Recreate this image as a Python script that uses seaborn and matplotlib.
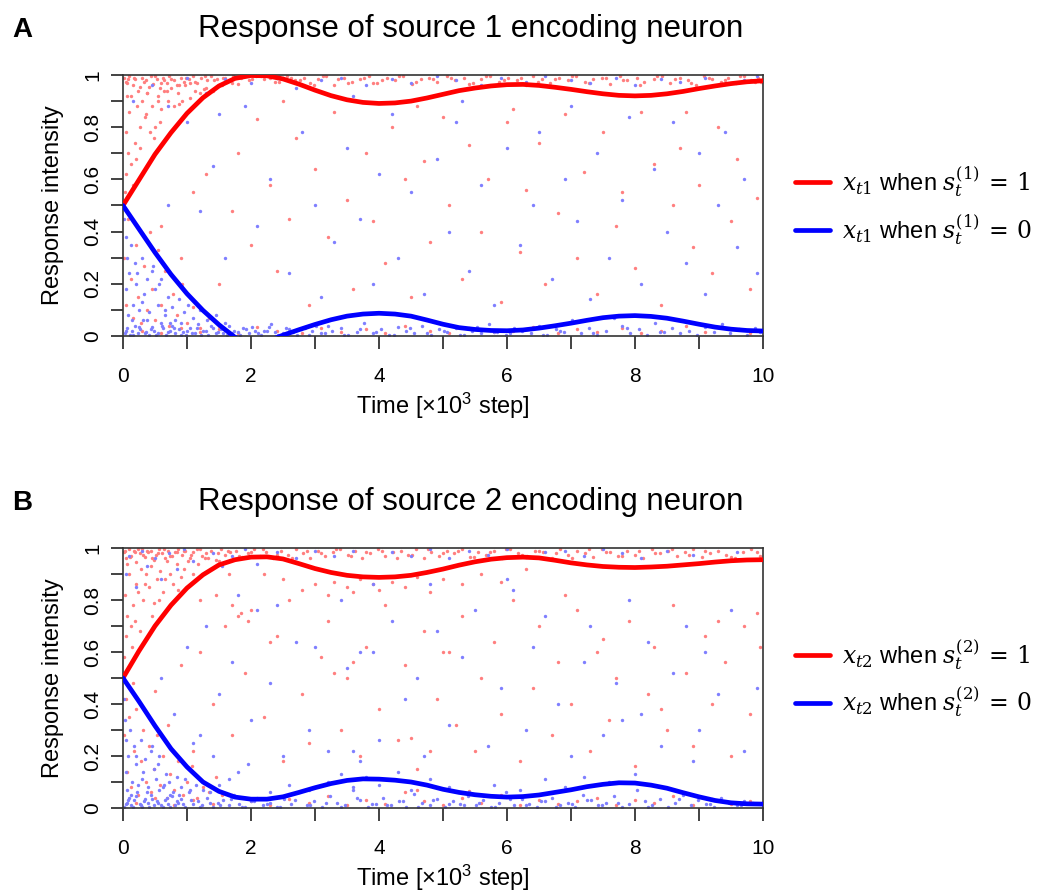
import matplotlib
matplotlib.use("Agg")
import matplotlib.pyplot as plt
import seaborn as sns
from matplotlib.ticker import MultipleLocator, FuncFormatter

# ---------------- curves ----------------
t = [0, 0.25, 0.5, 0.75, 1, 1.25, 1.5, 1.75, 2, 2.25, 2.5, 2.75, 3, 3.25, 3.5, 3.75,
     4, 4.25, 4.5, 4.75, 5, 5.25, 5.5, 5.75, 6, 6.25, 6.5, 6.75, 7, 7.25, 7.5, 7.75,
     8, 8.25, 8.5, 8.75, 9, 9.25, 9.5, 9.75, 10]

a_red = [0.5, 0.598, 0.696, 0.779, 0.853, 0.913, 0.958, 0.987, 0.998, 0.997, 0.985, 0.965, 0.942, 0.921,
         0.905, 0.895, 0.891, 0.893, 0.9, 0.912, 0.926, 0.94, 0.95, 0.958, 0.963, 0.964, 0.96, 0.953,
         0.945, 0.936, 0.928, 0.922, 0.92, 0.922, 0.928, 0.937, 0.948, 0.958, 0.967, 0.974, 0.978]
a_blue = [0.5, 0.41, 0.32, 0.236, 0.162, 0.098, 0.043, -0.005, -0.03, -0.02, 0.003, 0.024, 0.044, 0.062,
          0.076, 0.084, 0.087, 0.084, 0.076, 0.061, 0.045, 0.032, 0.025, 0.021, 0.02, 0.023, 0.03, 0.039,
          0.049, 0.06, 0.07, 0.076, 0.078, 0.075, 0.068, 0.057, 0.045, 0.034, 0.026, 0.021, 0.019]
b_red = [0.5, 0.604, 0.70, 0.78, 0.846, 0.897, 0.935, 0.955, 0.965, 0.966, 0.958, 0.94, 0.921, 0.906,
         0.895, 0.889, 0.887, 0.889, 0.895, 0.906, 0.919, 0.934, 0.947, 0.957, 0.963, 0.965, 0.962, 0.953,
         0.943, 0.935, 0.929, 0.926, 0.925, 0.927, 0.93, 0.935, 0.94, 0.946, 0.951, 0.954, 0.955]
b_blue = [0.5, 0.41, 0.316, 0.228, 0.158, 0.10, 0.064, 0.042, 0.034, 0.034, 0.043, 0.06, 0.078,
          0.094, 0.106, 0.112, 0.111, 0.107, 0.1, 0.088, 0.072, 0.06, 0.051, 0.045, 0.042, 0.044, 0.05,
          0.06, 0.07, 0.082, 0.091, 0.097, 0.096, 0.088, 0.076, 0.059, 0.043, 0.029, 0.02, 0.016, 0.015]

# ---------------- panel A dots ----------------
ra_top_x = [0.02, 0.06, 0.1, 0.15, 0.19, 0.24, 0.3, 0.33, 0.38, 0.44, 0.47, 0.53, 0.58, 0.62, 0.68, 0.72, 0.79, 0.85, 0.9, 0.96,
            1.03, 1.1, 1.16, 1.22, 1.31, 1.38, 1.47, 1.56, 1.63, 1.72, 1.85, 1.97, 2.08, 2.21, 2.3, 2.44, 2.57, 2.69, 2.83, 2.92,
            3.05, 3.18, 3.3, 3.46, 3.58, 3.71, 3.84, 3.97, 4.12, 4.25, 4.38, 4.52, 4.66, 4.78, 4.91, 5.06, 5.19, 5.33, 5.47, 5.6,
            5.74, 5.88, 6.02, 6.15, 6.3, 6.41, 6.55, 6.68, 6.82, 6.95, 7.08, 7.22, 7.35, 7.49, 7.61, 7.76, 7.88, 8.03, 8.14, 8.29,
            8.42, 8.55, 8.7, 8.83, 8.96, 9.08, 9.21, 9.34, 9.46, 9.58, 9.7, 9.81, 9.93, 9.97, 0.08, 0.41, 0.64, 1.26, 2.5, 3.9]
ra_top_y = [0.99, 0.97, 0.995, 0.96, 0.985, 0.94, 0.99, 0.975, 0.93, 0.998, 0.965, 0.985, 0.95, 0.99, 0.97, 0.995, 0.98, 0.96, 0.99, 0.975,
            0.985, 0.995, 0.97, 0.99, 0.98, 0.996, 0.985, 0.99, 0.975, 0.995, 0.99, 0.98, 0.997, 0.985, 0.99, 0.975, 0.995, 0.98, 0.99, 0.97,
            0.985, 0.995, 0.96, 0.99, 0.975, 0.985, 0.995, 0.97, 0.99, 0.98, 0.995, 0.965, 0.985, 0.99, 0.975, 0.995, 0.98, 0.99, 0.97, 0.985,
            0.995, 0.975, 0.99, 0.98, 0.96, 0.995, 0.985, 0.97, 0.99, 0.98, 0.995, 0.975, 0.985, 0.99, 0.965, 0.995, 0.98, 0.99, 0.975, 0.985,
            0.995, 0.97, 0.99, 0.98, 0.96, 0.995, 0.985, 0.975, 0.99, 0.97, 0.995, 0.98, 0.99, 0.975, 0.985, 0.955, 0.98, 0.945, 0.99, 0.97]
ra_top2_x = [0.04, 0.17, 0.27, 0.36, 0.5, 0.6, 0.75, 0.87, 0.99, 1.13, 1.28, 1.42, 1.6, 1.8, 2.02, 2.15, 2.38, 2.62, 2.76, 2.98,
             3.12, 3.36, 3.52, 3.77, 4.05, 4.32, 4.58, 4.85, 5.13, 5.4, 5.67, 5.95, 6.22, 6.48, 6.75, 7.02, 7.28, 7.55, 7.82, 8.08,
             8.35, 8.62, 8.88, 9.15, 9.4, 9.64, 9.88, 0.12, 0.55, 1.05]
ra_top2_y = [0.975, 0.99, 0.955, 0.98, 0.995, 0.97, 0.985, 0.96, 0.99, 0.975, 0.995, 0.98, 0.99, 0.965, 0.985, 0.995, 0.975, 0.99, 0.98, 0.96,
             0.995, 0.985, 0.97, 0.99, 0.98, 0.995, 0.975, 0.985, 0.99, 0.965, 0.995, 0.98, 0.99, 0.975, 0.985, 0.995, 0.97, 0.99, 0.98, 0.96,
             0.995, 0.985, 0.97, 0.99, 0.98, 0.995, 0.975, 0.92, 0.9, 0.97]
ra_ul_x = [0.03, 0.05, 0.08, 0.04, 0.1, 0.13, 0.07, 0.18, 0.22, 0.26, 0.15, 0.3, 0.34, 0.2, 0.38, 0.42, 0.27, 0.46, 0.5, 0.55,
           0.36, 0.6, 0.64, 0.7, 0.48, 0.75, 0.8, 0.58, 0.86, 0.92, 0.97, 0.68, 1.04, 1.12, 1.2, 0.88, 1.3, 1.4, 1.55, 1.7]
ra_ul_y = [0.55, 0.62, 0.7, 0.78, 0.86, 0.66, 0.92, 0.74, 0.88, 0.8, 0.58, 0.9, 0.84, 0.68, 0.93, 0.78, 0.72, 0.88, 0.8, 0.92,
           0.85, 0.87, 0.94, 0.9, 0.76, 0.95, 0.88, 0.82, 0.93, 0.9, 0.96, 0.94, 0.91, 0.94, 0.93, 0.89, 0.95, 0.94, 0.96, 0.97]
ra_mid_x = [0.6, 0.9, 1.1, 1.3, 1.5, 1.7, 1.8, 2.0, 2.1, 2.3, 2.4, 2.6, 2.7, 2.9, 3.0, 3.2, 3.3, 3.5, 3.6, 3.8,
            3.9, 4.1, 4.2, 4.4, 4.5, 4.7, 4.8, 5.0, 5.1, 5.3, 5.4, 5.6, 5.7, 5.9, 6.0, 6.2, 6.3, 6.5, 6.6, 6.8,
            6.9, 7.1, 7.2, 7.4, 7.5, 7.7, 7.8, 8.0, 8.1, 8.3, 8.4, 8.6, 8.7, 8.9, 9.0, 9.2, 9.3, 9.5, 9.6, 9.8,
            9.9, 2.5, 4.6, 6.1, 8.8]
ra_mid_y = [0.42, 0.3, 0.55, 0.62, 0.2, 0.48, 0.7, 0.35, 0.83, 0.58, 0.25, 0.45, 0.76, 0.12, 0.64, 0.38, 0.86, 0.52, 0.18, 0.7,
            0.44, 0.28, 0.8, 0.6, 0.15, 0.67, 0.36, 0.84, 0.5, 0.22, 0.73, 0.4, 0.6, 0.13, 0.82, 0.32, 0.56, 0.74, 0.2, 0.47,
            0.85, 0.3, 0.63, 0.16, 0.78, 0.42, 0.55, 0.26, 0.86, 0.66, 0.12, 0.5, 0.72, 0.34, 0.58, 0.24, 0.8, 0.44, 0.68, 0.18,
            0.53, 0.9, 0.88, 0.87, 0.86]
ra_ll_x = [0.02, 0.05, 0.08, 0.12, 0.15, 0.2, 0.24, 0.28, 0.33, 0.37, 0.42, 0.46, 0.5, 0.55, 0.6, 0.66, 0.72, 0.78, 0.85, 0.92,
           1.0, 1.1, 1.2, 1.35, 1.5]
ra_ll_y = [0.3, 0.12, 0.45, 0.22, 0.07, 0.35, 0.15, 0.05, 0.27, 0.1, 0.4, 0.18, 0.06, 0.33, 0.12, 0.25, 0.04, 0.16, 0.08, 0.2,
           0.05, 0.11, 0.03, 0.07, 0.04]
ra_bot_x = [0.3, 0.6, 0.9, 1.2, 1.5, 1.8, 2.1, 2.4, 2.8, 3.1, 3.4, 3.8, 4.1, 4.4, 4.8, 5.1, 5.4, 5.8, 6.1, 6.4,
            6.8, 7.1, 7.4, 7.8, 8.1, 8.4, 8.8, 9.1, 9.5, 9.8]
ra_bot_y = [0.02, 0.01, 0.03, 0.015, 0.025, 0.01, 0.035, 0.02, 0.01, 0.03, 0.015, 0.025, 0.01, 0.04, 0.02, 0.01, 0.03, 0.015, 0.02, 0.035,
            0.01, 0.025, 0.015, 0.03, 0.01, 0.02, 0.04, 0.015, 0.025, 0.01]

ba_bot_x = [0.03, 0.07, 0.11, 0.14, 0.18, 0.23, 0.27, 0.31, 0.36, 0.4, 0.45, 0.49, 0.54, 0.59, 0.63, 0.67, 0.73, 0.77, 0.82, 0.87,
            0.93, 0.98, 1.05, 1.12, 1.18, 1.25, 1.33, 1.41, 1.49, 1.57, 1.66, 1.74, 1.83, 1.92, 2.01, 2.11, 2.2, 2.32, 2.43, 2.55,
            2.66, 2.78, 2.9, 3.02, 3.15, 3.27, 3.4, 3.52, 3.65, 3.77, 3.9, 4.03, 4.16, 4.29, 4.42, 4.55, 4.68, 4.81, 4.94, 5.07,
            5.2, 5.33, 5.46, 5.59, 5.72, 5.85, 5.98, 6.11, 6.24, 6.37, 6.5, 6.63, 6.76, 6.89, 7.02, 7.15, 7.28, 7.41, 7.54, 7.67,
            7.8, 7.93, 8.06, 8.19, 8.32, 8.45, 8.58, 8.71, 8.84, 8.97, 9.1, 9.23, 9.36, 9.49, 9.62, 9.75, 9.88, 9.96, 1.7, 2.25]
ba_bot_y = [0.01, 0.03, 0.005, 0.02, 0.04, 0.01, 0.025, 0.06, 0.015, 0.005, 0.035, 0.02, 0.01, 0.05, 0.03, 0.005, 0.02, 0.04, 0.01, 0.025,
            0.015, 0.005, 0.03, 0.01, 0.045, 0.02, 0.005, 0.03, 0.015, 0.01, 0.04, 0.02, 0.005, 0.025, 0.035, 0.01, 0.02, 0.045, 0.005, 0.03,
            0.015, 0.025, 0.005, 0.04, 0.01, 0.02, 0.03, 0.005, 0.015, 0.05, 0.01, 0.025, 0.005, 0.035, 0.02, 0.01, 0.04, 0.005, 0.025, 0.015,
            0.03, 0.005, 0.02, 0.01, 0.045, 0.015, 0.005, 0.03, 0.02, 0.01, 0.04, 0.005, 0.025, 0.015, 0.06, 0.01, 0.03, 0.005, 0.02, 0.07,
            0.04, 0.01, 0.025, 0.005, 0.05, 0.015, 0.03, 0.01, 0.02, 0.005, 0.035, 0.015, 0.045, 0.01, 0.025, 0.005, 0.03, 0.015, 0.01, 0.02]
ba_bot2_x = [0.05, 0.16, 0.25, 0.34, 0.43, 0.52, 0.61, 0.7, 0.8, 0.9, 1.0, 1.08, 1.15, 1.22, 1.3, 1.38, 1.45, 1.53, 1.62, 1.79,
             1.88, 1.97, 2.06, 2.16, 2.28, 2.38, 2.5, 2.6, 2.72, 2.84, 2.96, 3.09, 3.21, 3.46, 3.71, 3.96, 4.23, 4.49, 4.75, 5.01,
             5.27, 5.53, 5.79, 6.05, 6.31, 6.57, 6.83, 7.35, 7.87, 8.39]
ba_bot2_y = [0.02, 0.005, 0.035, 0.01, 0.025, 0.005, 0.04, 0.015, 0.03, 0.005, 0.02, 0.01, 0.03, 0.005, 0.02, 0.04, 0.01, 0.025, 0.005, 0.015,
             0.03, 0.01, 0.02, 0.005, 0.035, 0.015, 0.01, 0.025, 0.005, 0.03, 0.02, 0.01, 0.04, 0.005, 0.025, 0.015, 0.005, 0.03, 0.01, 0.02,
             0.005, 0.035, 0.015, 0.01, 0.025, 0.005, 0.02, 0.01, 0.03, 0.015]
ba_ll_x = [0.02, 0.04, 0.06, 0.09, 0.05, 0.12, 0.15, 0.08, 0.18, 0.21, 0.25, 0.14, 0.29, 0.33, 0.22, 0.37, 0.41, 0.3, 0.45, 0.5,
           0.38, 0.55, 0.6, 0.47, 0.65, 0.7, 0.56, 0.76, 0.82, 0.66, 0.88, 0.95, 0.74, 1.02, 1.1, 1.2, 0.9, 1.32, 1.45, 1.6]
ba_ll_y = [0.45, 0.38, 0.3, 0.24, 0.18, 0.35, 0.12, 0.08, 0.28, 0.2, 0.1, 0.06, 0.3, 0.16, 0.24, 0.22, 0.09, 0.13, 0.25, 0.18,
           0.06, 0.12, 0.22, 0.27, 0.08, 0.15, 0.2, 0.11, 0.06, 0.1, 0.14, 0.09, 0.05, 0.12, 0.07, 0.1, 0.05, 0.06, 0.08, 0.05]
ba_mid_x = [0.7, 1.0, 1.2, 1.4, 1.6, 1.9, 2.1, 2.3, 2.6, 2.8, 3.0, 3.1, 3.3, 3.5, 3.7, 3.9, 4.0, 4.2, 4.3, 4.5,
            4.7, 4.9, 5.1, 5.2, 5.4, 5.6, 5.8, 6.0, 6.2, 6.4, 6.5, 6.7, 6.9, 7.1, 7.3, 7.4, 7.6, 7.8, 7.9, 8.1,
            8.3, 8.5, 8.6, 8.8, 9.0, 9.1, 9.3, 9.4, 9.6, 9.7, 9.9, 1.5, 3.6, 5.3, 7.0]
ba_mid_y = [0.5, 0.82, 0.48, 0.65, 0.3, 0.88, 0.42, 0.6, 0.24, 0.78, 0.5, 0.15, 0.36, 0.72, 0.45, 0.2, 0.62, 0.85, 0.3, 0.55,
            0.16, 0.68, 0.4, 0.82, 0.25, 0.58, 0.12, 0.72, 0.35, 0.5, 0.78, 0.22, 0.6, 0.44, 0.14, 0.7, 0.3, 0.52, 0.84, 0.2,
            0.64, 0.4, 0.82, 0.28, 0.7, 0.16, 0.5, 0.78, 0.34, 0.6, 0.24, 0.85, 0.92, 0.9, 0.88]
ba_top_x = [0.15, 0.45, 0.7, 1.0, 1.3, 1.6, 2.0, 2.4, 2.7, 3.1, 3.4, 3.8, 4.2, 4.5, 4.9, 5.2, 5.6, 5.9, 6.3, 6.6,
            7.0, 7.3, 7.7, 8.0, 8.4, 8.7, 9.1, 9.4, 9.7, 9.9]
ba_top_y = [0.9, 0.96, 0.88, 0.99, 0.93, 0.985, 0.97, 0.99, 0.95, 0.98, 0.99, 0.96, 0.985, 0.97, 0.995, 0.98, 0.96, 0.99, 0.975, 0.995,
            0.98, 0.97, 0.99, 0.96, 0.985, 0.975, 0.99, 0.965, 0.98, 0.995]

# ---------------- panel B dots ----------------
rb_top_x = [0.01, 0.05, 0.09, 0.13, 0.17, 0.21, 0.26, 0.29, 0.34, 0.39, 0.43, 0.48, 0.52, 0.57, 0.61, 0.66, 0.71, 0.76, 0.81, 0.86,
            0.92, 0.97, 1.04, 1.09, 1.15, 1.23, 1.3, 1.37, 1.45, 1.53, 1.6, 1.68, 1.77, 1.86, 1.95, 2.05, 2.14, 2.24, 2.35, 2.47,
            2.58, 2.7, 2.81, 2.93, 3.04, 3.16, 3.28, 3.39, 3.51, 3.63, 3.74, 3.86, 3.98, 4.1, 4.22, 4.34, 4.46, 4.58, 4.7, 4.82,
            4.94, 5.06, 5.18, 5.3, 5.43, 5.55, 5.68, 5.8, 5.93, 6.05, 6.18, 6.31, 6.44, 6.57, 6.7, 6.83, 6.96, 7.09, 7.22, 7.35,
            7.48, 7.61, 7.74, 7.87, 8.0, 8.13, 8.26, 8.39, 8.52, 8.65, 8.78, 8.91, 9.04, 9.17, 9.3, 9.43, 9.56, 9.69, 9.82, 9.95]
rb_top_y = [0.985, 0.96, 0.995, 0.97, 0.99, 0.945, 0.98, 0.995, 0.965, 0.985, 0.99, 0.955, 0.975, 0.995, 0.98, 0.96, 0.99, 0.97, 0.985, 0.995,
            0.975, 0.99, 0.96, 0.985, 0.995, 0.97, 0.98, 0.99, 0.955, 0.995, 0.975, 0.985, 0.99, 0.965, 0.98, 0.995, 0.97, 0.985, 0.96, 0.99,
            0.975, 0.995, 0.98, 0.96, 0.99, 0.97, 0.985, 0.995, 0.975, 0.99, 0.96, 0.98, 0.995, 0.97, 0.985, 0.99, 0.975, 0.995, 0.96, 0.985,
            0.97, 0.99, 0.98, 0.995, 0.965, 0.985, 0.975, 0.99, 0.96, 0.995, 0.98, 0.97, 0.99, 0.985, 0.96, 0.995, 0.975, 0.99, 0.98, 0.965,
            0.995, 0.985, 0.97, 0.99, 0.975, 0.96, 0.995, 0.98, 0.99, 0.97, 0.985, 0.995, 0.965, 0.98, 0.99, 0.975, 0.96, 0.985, 0.995, 0.97]
rb_top2_x = [0.03, 0.11, 0.19, 0.24, 0.31, 0.37, 0.45, 0.55, 0.64, 0.74, 0.84, 0.95, 1.07, 1.2, 1.33, 1.49, 1.64, 1.82, 2.0, 2.19,
             2.41, 2.64, 2.87, 3.1, 3.33, 3.57, 3.8, 4.04, 4.28, 4.52, 4.76, 5.0, 5.24, 5.49, 5.74, 5.99, 6.24, 6.5, 6.76, 7.02,
             7.28, 7.54, 7.8, 8.06, 8.32, 8.58, 8.84, 9.1, 9.5, 9.9]
rb_top2_y = [0.99, 0.965, 0.985, 0.995, 0.975, 0.99, 0.96, 0.98, 0.995, 0.97, 0.985, 0.99, 0.975, 0.995, 0.96, 0.98, 0.99, 0.97, 0.985, 0.995,
             0.975, 0.96, 0.99, 0.98, 0.995, 0.97, 0.985, 0.99, 0.96, 0.975, 0.995, 0.98, 0.99, 0.965, 0.985, 0.995, 0.975, 0.99, 0.98, 0.96,
             0.995, 0.985, 0.97, 0.99, 0.98, 0.995, 0.975, 0.99, 0.965, 0.985]
rb_nc_x = [2.2, 2.5, 2.8, 3.0, 3.2, 3.3, 3.5, 3.6, 3.7, 3.9, 4.0, 4.2, 4.4, 4.6, 4.8, 5.0, 5.3, 5.6, 5.9, 6.3]
rb_nc_y = [0.9, 0.88, 0.84, 0.86, 0.82, 0.87, 0.85, 0.83, 0.88, 0.86, 0.84, 0.87, 0.85, 0.89, 0.83, 0.88, 0.86, 0.9, 0.87, 0.92]
rb_ul_x = [0.02, 0.04, 0.07, 0.03, 0.1, 0.12, 0.06, 0.16, 0.2, 0.24, 0.14, 0.28, 0.32, 0.19, 0.36, 0.4, 0.26, 0.44, 0.49, 0.53,
           0.34, 0.58, 0.62, 0.68, 0.46, 0.73, 0.78, 0.56, 0.84, 0.9, 0.95, 0.66, 1.02, 1.1, 1.18, 0.86, 1.28, 1.38, 1.5, 1.65,
           1.2, 1.45, 1.7, 1.85, 1.95]
rb_ul_y = [0.58, 0.66, 0.74, 0.82, 0.9, 0.7, 0.94, 0.78, 0.86, 0.83, 0.62, 0.92, 0.8, 0.72, 0.9, 0.85, 0.68, 0.93, 0.79, 0.88,
           0.86, 0.91, 0.83, 0.95, 0.74, 0.9, 0.86, 0.8, 0.94, 0.89, 0.92, 0.88, 0.95, 0.9, 0.94, 0.84, 0.96, 0.92, 0.95, 0.9,
           0.8, 0.82, 0.78, 0.75, 0.72]
rb_mid_x = [0.5, 0.7, 0.9, 1.1, 1.2, 1.4, 1.6, 1.7, 1.9, 2.0, 2.2, 2.3, 2.5, 2.6, 2.8, 2.9, 3.1, 3.2, 3.4, 3.5,
            3.7, 3.8, 4.0, 4.1, 4.3, 4.4, 4.6, 4.7, 4.9, 5.0, 5.2, 5.3, 5.5, 5.6, 5.8, 5.9, 6.1, 6.2, 6.4, 6.5,
            6.7, 6.8, 7.0, 7.1, 7.3, 7.4, 7.6, 7.7, 7.9, 8.0, 8.2, 8.3, 8.5, 8.6, 8.8, 8.9, 9.1, 9.2, 9.4, 9.5,
            9.7, 9.8, 9.95, 3.3, 3.6, 4.5, 4.8, 5.1, 2.4, 1.8, 6.9, 7.5, 8.4, 9.3, 9.9]
rb_mid_y = [0.45, 0.32, 0.55, 0.22, 0.6, 0.4, 0.7, 0.28, 0.52, 0.76, 0.35, 0.64, 0.18, 0.8, 0.44, 0.25, 0.58, 0.72, 0.3, 0.5,
            0.2, 0.62, 0.38, 0.78, 0.26, 0.55, 0.15, 0.68, 0.42, 0.6, 0.32, 0.74, 0.22, 0.5, 0.64, 0.36, 0.8, 0.18, 0.46, 0.7,
            0.28, 0.56, 0.4, 0.76, 0.22, 0.6, 0.34, 0.5, 0.72, 0.16, 0.44, 0.62, 0.3, 0.78, 0.52, 0.24, 0.66, 0.4, 0.56, 0.2,
            0.7, 0.36, 0.62, 0.52, 0.56, 0.27, 0.22, 0.6, 0.66, 0.74, 0.82, 0.65, 0.38, 0.72, 0.75]
rb_ll_x = [0.02, 0.04, 0.07, 0.1, 0.13, 0.17, 0.2, 0.24, 0.28, 0.32, 0.36, 0.4, 0.44, 0.48, 0.53, 0.58, 0.63, 0.68, 0.74, 0.8,
           0.86, 0.93, 1.0, 1.08, 1.16, 1.25, 1.35, 1.45, 1.55, 0.15]
rb_ll_y = [0.28, 0.42, 0.14, 0.35, 0.08, 0.22, 0.38, 0.05, 0.18, 0.3, 0.1, 0.24, 0.06, 0.15, 0.28, 0.09, 0.2, 0.04, 0.13, 0.07,
           0.18, 0.05, 0.1, 0.16, 0.04, 0.08, 0.06, 0.12, 0.05, 0.48]
rb_bot_x = [0.2, 0.5, 0.8, 1.1, 1.4, 1.7, 2.0, 2.3, 2.6, 2.9, 3.2, 3.5, 3.8, 4.1, 4.4, 4.7, 5.0, 5.3, 5.6, 5.9,
            6.2, 6.5, 6.8, 7.1, 7.4, 7.7, 8.0, 8.3, 8.6, 8.9, 9.2, 9.5, 9.8, 4.6, 5.4]
rb_bot_y = [0.02, 0.04, 0.01, 0.03, 0.015, 0.05, 0.025, 0.01, 0.035, 0.02, 0.045, 0.01, 0.03, 0.015, 0.06, 0.025, 0.01, 0.04, 0.02, 0.05,
            0.01, 0.03, 0.015, 0.025, 0.04, 0.01, 0.03, 0.02, 0.045, 0.01, 0.035, 0.015, 0.025, 0.07, 0.065]

bb_bot_x = [0.02, 0.06, 0.1, 0.13, 0.17, 0.22, 0.26, 0.3, 0.35, 0.39, 0.44, 0.48, 0.53, 0.57, 0.62, 0.66, 0.71, 0.76, 0.81, 0.86,
            0.91, 0.97, 1.03, 1.1, 1.17, 1.24, 1.32, 1.4, 1.48, 1.56, 1.65, 1.73, 1.82, 1.91, 2.0, 2.1, 2.19, 2.3, 2.41, 2.52,
            2.63, 2.75, 2.87, 2.99, 3.11, 3.23, 3.35, 3.47, 3.59, 3.71, 3.83, 3.95, 4.07, 4.19, 4.31, 4.43, 4.55, 4.67, 4.79, 4.91,
            5.03, 5.15, 5.27, 5.39, 5.51, 5.63, 5.75, 5.87, 5.99, 6.11, 6.23, 6.35, 6.47, 6.59, 6.71, 6.83, 6.95, 7.07, 7.19, 7.31,
            7.43, 7.55, 7.67, 7.79, 7.91, 8.03, 8.15, 8.27, 8.39, 8.51, 8.63, 8.75, 8.87, 8.99, 9.11, 9.23, 9.35, 9.47, 9.59, 9.71]
bb_bot_y = [0.005, 0.02, 0.04, 0.01, 0.03, 0.06, 0.015, 0.005, 0.035, 0.02, 0.05, 0.01, 0.025, 0.07, 0.005, 0.03, 0.015, 0.045, 0.01, 0.02,
            0.035, 0.005, 0.06, 0.015, 0.025, 0.01, 0.04, 0.005, 0.02, 0.03, 0.01, 0.05, 0.015, 0.005, 0.025, 0.04, 0.01, 0.02, 0.005, 0.035,
            0.015, 0.06, 0.01, 0.025, 0.005, 0.045, 0.02, 0.01, 0.07, 0.03, 0.005, 0.015, 0.04, 0.01, 0.025, 0.005, 0.055, 0.02, 0.01, 0.035,
            0.005, 0.025, 0.015, 0.045, 0.01, 0.03, 0.005, 0.02, 0.06, 0.01, 0.035, 0.015, 0.005, 0.025, 0.04, 0.01, 0.02, 0.005, 0.05, 0.03,
            0.01, 0.02, 0.045, 0.005, 0.015, 0.07, 0.025, 0.01, 0.035, 0.005, 0.02, 0.05, 0.01, 0.03, 0.015, 0.005, 0.04, 0.02, 0.01, 0.025]
bb_bot2_x = [0.04, 0.08, 0.15, 0.2, 0.28, 0.33, 0.41, 0.46, 0.55, 0.6, 0.69, 0.74, 0.84, 0.94, 1.06, 1.2, 1.36, 1.52, 1.69, 1.86,
             2.05, 2.25, 2.46, 2.69, 2.93, 3.17, 3.41, 3.65, 3.89, 4.13, 4.37, 4.61, 4.85, 5.09, 5.33, 5.57, 5.81, 6.05, 6.29, 6.53,
             6.77, 7.01, 7.25, 7.49, 7.73, 8.21, 8.69, 9.17, 9.65, 9.85]
bb_bot2_y = [0.015, 0.03, 0.005, 0.045, 0.01, 0.025, 0.005, 0.035, 0.02, 0.01, 0.04, 0.005, 0.025, 0.015, 0.03, 0.005, 0.02, 0.01, 0.035, 0.005,
             0.025, 0.015, 0.005, 0.03, 0.01, 0.02, 0.005, 0.04, 0.015, 0.01, 0.025, 0.005, 0.03, 0.015, 0.01, 0.02, 0.005, 0.035, 0.01, 0.025,
             0.005, 0.015, 0.03, 0.01, 0.02, 0.005, 0.035, 0.015, 0.01, 0.02]
bb_nc_x = [2.3, 2.6, 2.9, 3.2, 3.4, 3.6, 3.8, 4.0, 4.3, 4.5, 4.8, 5.1, 5.4, 5.8, 6.2, 6.6, 6.9, 7.2, 7.6, 8.0]
bb_nc_y = [0.06, 0.09, 0.07, 0.1, 0.13, 0.08, 0.12, 0.09, 0.14, 0.07, 0.11, 0.08, 0.06, 0.09, 0.07, 0.11, 0.08, 0.12, 0.1, 0.13]
bb_ll_x = [0.02, 0.03, 0.05, 0.08, 0.04, 0.11, 0.14, 0.07, 0.17, 0.2, 0.24, 0.13, 0.28, 0.31, 0.21, 0.35, 0.39, 0.29, 0.43, 0.48,
           0.37, 0.52, 0.57, 0.46, 0.62, 0.67, 0.55, 0.72, 0.78, 0.64, 0.84, 0.9, 0.73, 0.97, 1.05, 1.14, 0.87, 1.25, 1.36, 1.5,
           1.65, 1.8, 1.95, 1.4, 1.1]
bb_ll_y = [0.42, 0.34, 0.26, 0.2, 0.14, 0.3, 0.1, 0.07, 0.24, 0.17, 0.09, 0.05, 0.26, 0.14, 0.2, 0.19, 0.08, 0.11, 0.22, 0.15,
           0.06, 0.11, 0.2, 0.24, 0.08, 0.13, 0.17, 0.1, 0.06, 0.09, 0.12, 0.08, 0.05, 0.11, 0.07, 0.09, 0.05, 0.07, 0.06, 0.09,
           0.11, 0.14, 0.17, 0.2, 0.25]
bb_mid_x = [0.6, 0.8, 1.0, 1.2, 1.3, 1.5, 1.7, 1.8, 2.0, 2.1, 2.3, 2.5, 2.7, 2.9, 3.0, 3.2, 3.4, 3.5, 3.7, 3.9,
            4.0, 4.2, 4.4, 4.6, 4.7, 4.9, 5.1, 5.3, 5.5, 5.7, 5.9, 6.1, 6.3, 6.4, 6.6, 6.8, 7.0, 7.2, 7.3, 7.5,
            7.7, 7.9, 8.1, 8.2, 8.4, 8.6, 8.8, 9.0, 9.1, 9.3, 9.5, 9.7, 9.9, 3.6, 3.7, 2.4, 4.8, 6.0, 7.8, 8.9]
bb_mid_y = [0.5, 0.36, 0.62, 0.28, 0.7, 0.44, 0.56, 0.82, 0.34, 0.76, 0.48, 0.2, 0.64, 0.3, 0.62, 0.22, 0.8, 0.54, 0.18, 0.6,
            0.26, 0.72, 0.42, 0.5, 0.2, 0.68, 0.32, 0.58, 0.76, 0.24, 0.46, 0.84, 0.3, 0.62, 0.74, 0.4, 0.2, 0.56, 0.7, 0.28,
            0.48, 0.8, 0.36, 0.64, 0.24, 0.52, 0.7, 0.3, 0.6, 0.44, 0.76, 0.22, 0.46, 0.22, 0.6, 0.78, 0.86, 0.88, 0.34, 0.18]
bb_top_x = [0.05, 0.1, 0.2, 0.3, 0.38, 0.5, 0.6, 0.72, 0.85, 0.95, 1.1, 1.25, 1.4, 1.55, 1.7, 1.9, 2.1, 2.4, 2.7, 3.0,
            3.3, 3.6, 3.9, 4.2, 4.5, 4.8, 5.1, 5.4, 5.7, 6.0, 6.3, 6.6, 6.9, 7.2, 7.5, 7.8, 8.1, 8.5, 8.9, 9.6]
bb_top_y = [0.9, 0.97, 0.85, 0.99, 0.93, 0.96, 0.88, 0.98, 0.92, 0.995, 0.95, 0.9, 0.98, 0.93, 0.97, 0.995, 0.94, 0.985, 0.96, 0.99,
            0.97, 0.99, 0.86, 0.985, 0.97, 0.995, 0.96, 0.99, 0.975, 0.995, 0.965, 0.985, 0.99, 0.97, 0.995, 0.98, 0.96, 0.99, 0.975, 0.985]

titles = ["Response of source 1 encoding neuron", "Response of source 2 encoding neuron"]
letters = ["A", "B"]

sns.set_theme(style="ticks")
plt.rcParams["font.family"] = ["Liberation Sans", "DejaVu Sans"]
plt.rcParams["mathtext.fontset"] = "dejavuserif"
for key in ["text.color", "axes.labelcolor", "xtick.color", "ytick.color"]:
    plt.rcParams[key] = "black"

RED_DOT = "#ff7f7f"
BLUE_DOT = "#7f7fff"


def draw_panel(ax, red_x, red_y, blue_x, blue_y, red_curve, blue_curve, k):
    sns.scatterplot(x=red_x, y=red_y, color=RED_DOT, s=6, linewidth=0, ax=ax, legend=False, zorder=2)
    sns.scatterplot(x=blue_x, y=blue_y, color=BLUE_DOT, s=6, linewidth=0, ax=ax, legend=False, zorder=2)
    sns.lineplot(x=t, y=red_curve, color="#ff0000", lw=3.4, ax=ax, estimator=None, sort=False, zorder=3,
                 solid_joinstyle="round", label=rf"$x_{{t{k}}}$ when $s_t^{{({k})}}\,=\,1$")
    sns.lineplot(x=t, y=blue_curve, color="#0000ff", lw=3.4, ax=ax, estimator=None, sort=False, zorder=3,
                 solid_joinstyle="round", label=rf"$x_{{t{k}}}$ when $s_t^{{({k})}}\,=\,0$")
    ax.set_xlim(0, 10)
    ax.set_ylim(0, 1)
    ax.xaxis.set_major_locator(MultipleLocator(2))
    ax.xaxis.set_minor_locator(MultipleLocator(1))
    ax.yaxis.set_major_locator(MultipleLocator(0.2))
    ax.yaxis.set_minor_locator(MultipleLocator(0.1))
    fmt = FuncFormatter(lambda v, _: f"{v:g}")
    ax.xaxis.set_major_formatter(fmt)
    ax.yaxis.set_major_formatter(fmt)
    ax.tick_params(which="both", direction="out", length=9, width=1.2, color="#222222")
    ax.tick_params(axis="x", labelsize=15, pad=13)
    ax.tick_params(axis="y", labelsize=15, pad=6)
    for lab in ax.get_yticklabels():
        lab.set_rotation(90)
        lab.set_va("center")
    for sp in ax.spines.values():
        sp.set_linewidth(1.2)
        sp.set_color("#333333")
    ax.set_xlabel(r"Time [×10$^{\mathregular{3}}$ step]", fontsize=17, labelpad=4)
    ax.set_ylabel("Response intensity", fontsize=17, labelpad=14)
    handles, labels = ax.get_legend_handles_labels()
    ax.legend(handles, labels, loc="center left", bbox_to_anchor=(1.035, 0.5), frameon=False,
              fontsize=17, handlelength=1.5, handletextpad=0.5, labelspacing=0.55, borderaxespad=0)


fig = plt.figure(figsize=(10.44, 8.94), dpi=100)
ax_a = fig.add_axes([0.1178, 0.6242, 0.6130, 0.2919])
ax_b = fig.add_axes([0.1178, 0.0962, 0.6130, 0.2908])

draw_panel(ax_a,
           ra_top_x + ra_top2_x + ra_ul_x + ra_mid_x + ra_ll_x + ra_bot_x,
           ra_top_y + ra_top2_y + ra_ul_y + ra_mid_y + ra_ll_y + ra_bot_y,
           ba_bot_x + ba_bot2_x + ba_ll_x + ba_mid_x + ba_top_x,
           ba_bot_y + ba_bot2_y + ba_ll_y + ba_mid_y + ba_top_y,
           a_red, a_blue, 1)
draw_panel(ax_b,
           rb_top_x + rb_top2_x + rb_nc_x + rb_ul_x + rb_mid_x + rb_ll_x + rb_bot_x,
           rb_top_y + rb_top2_y + rb_nc_y + rb_ul_y + rb_mid_y + rb_ll_y + rb_bot_y,
           bb_bot_x + bb_bot2_x + bb_nc_x + bb_ll_x + bb_mid_x + bb_top_x,
           bb_bot_y + bb_bot2_y + bb_nc_y + bb_ll_y + bb_mid_y + bb_top_y,
           b_red, b_blue, 2)

for y, title, letter in zip([0.9586, 0.4295], titles, letters):
    fig.text(0.4507, y, title, ha="center", va="baseline", fontsize=22.5)
    fig.text(0.0115, y, letter, ha="left", va="baseline", fontsize=20, fontweight="bold")

fig.savefig("out.png", dpi=100)
